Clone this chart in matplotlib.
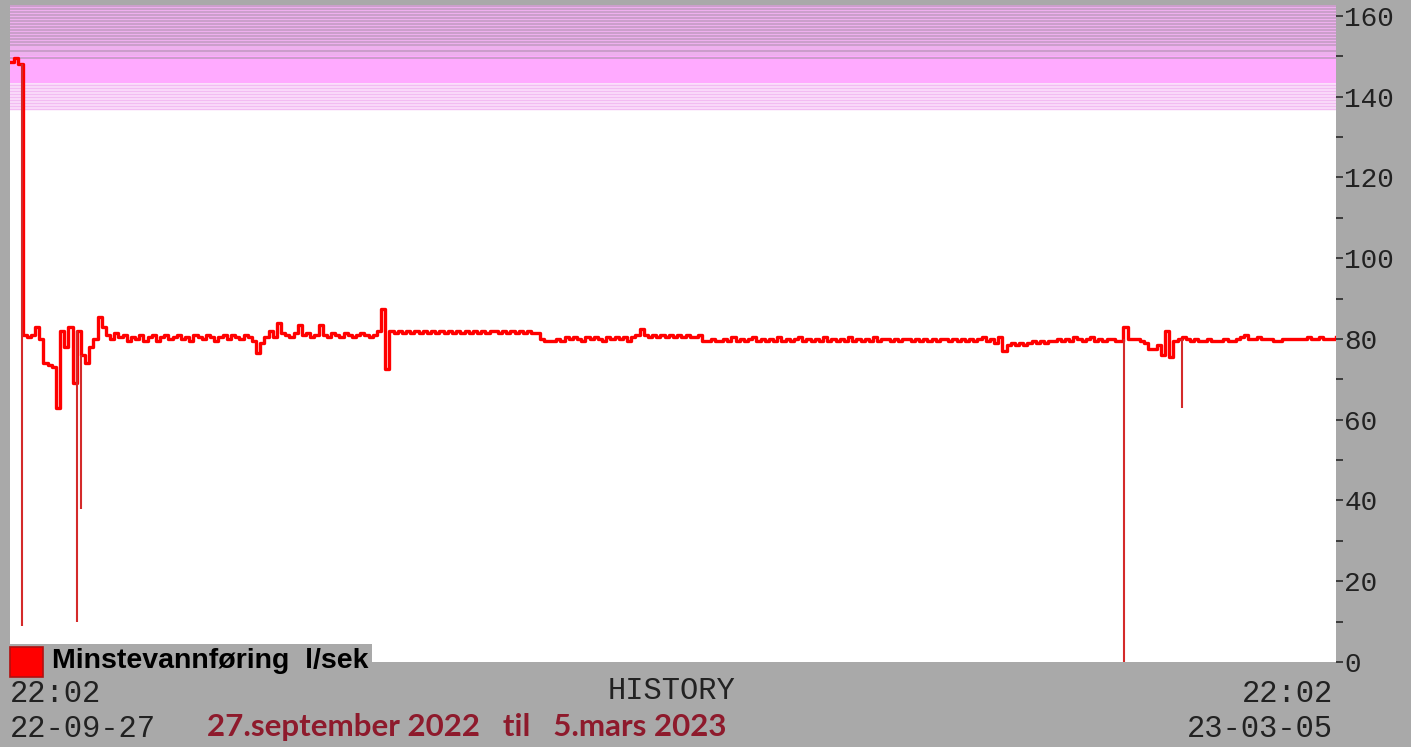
import numpy as np
import matplotlib
matplotlib.use('Agg')
import matplotlib.pyplot as plt
from matplotlib.patches import Rectangle

W, H = 1411, 747

# flow (l/sek), one sample every 12 hours from 22-09-27 22:02
flow = [
    148.5, 149.5, 148, 81, 80.5, 81, 83, 80, 74, 73.5,
    73, 63, 82, 78, 83, 69, 82, 76, 74, 78,
    80, 85.5, 83, 81, 80, 81.5, 80.5, 81, 79.5, 80.5,
    80, 81, 79.5, 80.5, 81, 79.5, 80.5, 81, 80, 80.5,
    81, 80, 80.5, 79.5, 81, 80.5, 80, 81, 80.5, 79.5,
    80.5, 81, 80, 81, 80.5, 80, 81, 80.5, 79.5, 76.5,
    79, 80.5, 82, 80.5, 84, 81.5, 81, 80.5, 81.5, 83.5,
    81, 81.5, 80.5, 81, 83.5, 81, 80.5, 81.5, 81, 80.5,
    81.5, 81, 80.5, 81, 81.5, 81, 80.5, 81, 82, 87.5,
    72.5, 82, 81.5, 82, 81.5, 82, 81.5, 82, 81.5, 82,
    81.5, 82, 81.5, 82, 81.5, 82, 81.5, 82, 81.5, 82,
    81.5, 82, 81.5, 82, 81.5, 82, 82, 81.5, 82, 81.5,
    82, 81.5, 82, 81.5, 82, 81.5, 81.5, 80, 79.5, 79.5,
    79.5, 80, 79.5, 80.5, 80, 80.5, 80, 79.5, 80.5, 80,
    80.5, 80, 79.5, 80.5, 80, 80.5, 80, 80.5, 79.5, 80.5,
    81, 82.5, 81, 80.5, 81, 80.5, 81, 80.5, 81, 80.5,
    81, 80.5, 81, 80.5, 80.5, 81, 79.5, 79.5, 80, 79.5,
    79.5, 80, 79.5, 80.5, 79.5, 80, 79.5, 80, 80.5, 79.5,
    80, 79.5, 80, 79.5, 80.5, 79.5, 80, 79.5, 80, 80.5,
    79.5, 80, 79.5, 80, 79.5, 80.5, 79.5, 80, 79.5, 80,
    79.5, 80.5, 79.5, 80, 79.5, 80, 79.5, 80.5, 79.5, 80,
    80, 79.5, 80, 79.5, 80, 80, 79.5, 80, 79.5, 80,
    79.5, 80, 79.5, 80, 80, 79.5, 80, 79.5, 80, 79.5,
    80, 79.5, 80, 80.5, 79.5, 80, 79, 80.5, 77, 78.5,
    79, 78.5, 79, 78.5, 79, 79.5, 79, 79.5, 79, 79.5,
    79.5, 80, 79.5, 80, 79.5, 80.5, 80, 79.5, 80, 80.5,
    79.5, 80, 79.5, 80, 80, 79.5, 79.5, 83, 80, 80,
    80, 79.5, 79, 77.5, 77.5, 78.5, 76, 82, 75.5, 79.5,
    80, 80.5, 80, 79.5, 80, 79.5, 79.5, 80, 79.5, 79.5,
    79.5, 80, 79.5, 79.5, 80, 80.5, 81, 80, 80, 80.5,
    80, 80, 80, 79.5, 79.5, 80, 80, 80, 80, 80,
    80, 80.5, 80, 80, 80.5, 80, 80, 80, 80.5,
]
sample_days = 0.5
days = np.arange(len(flow)) * sample_days

# short drops (day, lowest value, value before)
spike_day = [1.45, 8.03, 8.5, 133.6, 140.5]
spike_low = [9, 10, 38, 0, 63]
spike_top = [148, 82, 76, 80, 80]

# alarm bands on the scale
band_dark = [150.0, 165.0]
band_solid = [143.4, 150.0]
band_light = [136.7, 143.4]
band_lines = [151.2, 149.6]

yticks = list(range(0, 161, 20))
yminor = list(range(10, 161, 20))

gray = '#a9a9a9'
fig = plt.figure(figsize=(W / 100, H / 100), dpi=100, facecolor=gray)
ax = fig.add_axes([10 / W, 1 - 662 / H, 1326 / W, 657 / H])
ax.set_facecolor('white')
ax.set_xlim(0, 159)
ax.set_ylim(0, 162.7)

# bands
ax.axhspan(band_dark[0], band_dark[1], color='#eeb0ee', lw=0, zorder=0)
for yy in np.arange(152.8, 163, 0.75):
    ax.axhline(yy, color='#c49cc4', lw=1.2, zorder=0.5)
ax.axhspan(band_solid[0], band_solid[1], color='#ffaaff', lw=0, zorder=0)
for yy in band_lines:
    ax.axhline(yy, color='#c89cc8', lw=1.3, zorder=0.5)
ax.axhspan(band_light[0], band_light[1], color='#fbe0fb', lw=0, zorder=0)
for yy in np.arange(band_light[0] + 0.3, band_light[1], 0.75):
    ax.axhline(yy, color='#f2bcf2', lw=1.0, zorder=0.5)

ax.plot(days, flow, drawstyle='steps-post', color='#ff0000', lw=2.4, zorder=3)
ax.vlines(spike_day, spike_low, spike_top, color='#d42a2a', lw=1.5, zorder=3)

for s in ax.spines.values():
    s.set_visible(False)
ax.set_xticks([])
ax.yaxis.tick_right()
ax.set_yticks(yticks)
ax.set_yticks(yminor, minor=True)
ax.set_yticklabels([str(t) for t in yticks])
ax.tick_params(axis='y', which='both', direction='out', length=5, width=1.3,
               color='#333333', pad=1, labelsize=20, labelcolor='#222222')
for lab in ax.get_yticklabels():
    lab.set_fontfamily('Liberation Mono')

# legend
fig.patches.append(Rectangle((0, 1 - 668 / H), 372 / W, 24 / H,
                             transform=fig.transFigure, facecolor=gray,
                             edgecolor='none', zorder=5))
fig.patches.append(Rectangle((10 / W, 1 - 677 / H), 33 / W, 30 / H,
                             transform=fig.transFigure, facecolor='#ff0000',
                             edgecolor='#b01010', lw=1.2, zorder=6))
fig.text(52 / W, 1 - 661 / H, 'Minstevannføring  l/sek', fontsize=20.5,
         fontweight='bold', family='Liberation Sans', va='center', ha='left',
         color='black', zorder=7)

mono = dict(family='Liberation Mono', fontsize=22, color='#222222', va='center')
fig.text(10 / W, 1 - 694 / H, '22:02', ha='left', **mono)
fig.text(10 / W, 1 - 729 / H, '22-09-27', ha='left', **mono)
fig.text(672 / W, 1 - 691 / H, 'HISTORY', ha='center', **mono)
fig.text(1333 / W, 1 - 694 / H, '22:02', ha='right', **mono)
fig.text(1333 / W, 1 - 729 / H, '23-03-05', ha='right', **mono)

fig.text(207 / W, 1 - 727 / H, '27.september 2022   til   5.mars 2023',
         family='Lato', fontweight='bold', fontsize=22.5, color='#8e1a2c',
         ha='left', va='center')

plt.savefig('out.png', dpi=100, facecolor=gray)
